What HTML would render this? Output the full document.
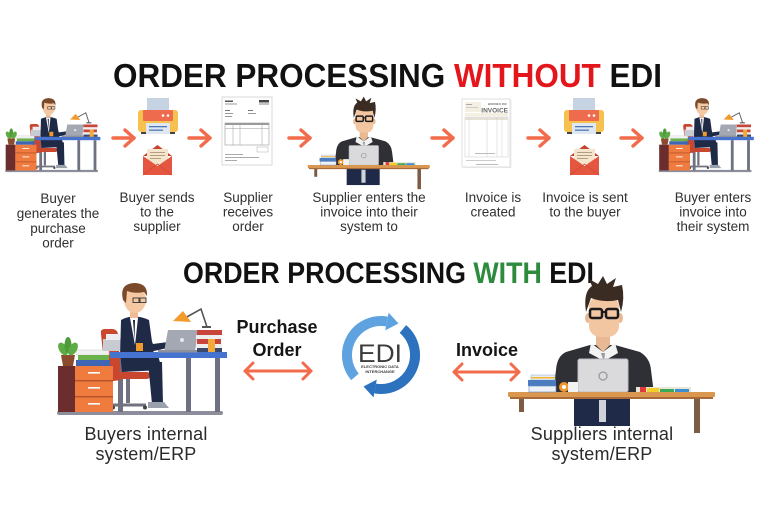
<!DOCTYPE html>
<html><head><meta charset="utf-8">
<style>
html,body{margin:0;padding:0;background:#fff;}
svg{display:block;}
text{font-family:"Liberation Sans",Arial,sans-serif;}
</style></head><body>
<svg width="768" height="514" viewBox="0 0 768 514" xmlns="http://www.w3.org/2000/svg" xmlns:xlink="http://www.w3.org/1999/xlink">
<defs>
<symbol id="buyer" viewBox="55 280 175 140">
  <rect x="57" y="411" width="166" height="4" rx="2" fill="#8c8e9c"/>
  <rect x="118" y="358" width="5" height="54" fill="#6e7182"/>
  <path d="M101 334 Q100 329 105 329 L113 329 Q118 330 118 335 L121 380 L106 382 Z" fill="#c9462f"/>
  <rect x="106" y="372" width="44" height="7" rx="3" fill="#c9462f"/>
  <rect x="126" y="379" width="4" height="24" fill="#70737f"/>
  <path d="M112 405 L146 405" stroke="#70737f" stroke-width="3"/>
  <circle cx="113" cy="407.5" r="2" fill="#444"/><circle cx="145" cy="407.5" r="2" fill="#444"/>
  <rect x="58" y="366" width="18" height="46" fill="#6b2d2e"/>
  <rect x="75" y="366" width="38" height="46" fill="#ef7b3f"/>
  <rect x="75" y="380" width="38" height="1.5" fill="#b9552b"/>
  <rect x="75" y="396" width="38" height="1.5" fill="#b9552b"/>
  <rect x="88" y="372" width="12" height="1.6" fill="#fff"/>
  <rect x="88" y="387" width="12" height="1.6" fill="#fff"/>
  <rect x="88" y="403" width="12" height="1.6" fill="#fff"/>
  <rect x="76" y="350" width="33" height="5" fill="#f0f0f0" stroke="#ccc" stroke-width=".5"/>
  <rect x="78" y="355" width="31" height="5" fill="#6bb24a"/>
  <rect x="76" y="360" width="34" height="6" fill="#3f66b5"/>
  <path d="M61 355 L75 355 L73 366 L63 366 Z" fill="#8c4b2c"/>
  <ellipse cx="63" cy="349" rx="4" ry="7" fill="#5dab44" transform="rotate(-30 63 349)"/>
  <ellipse cx="68" cy="345" rx="3.5" ry="8" fill="#4f9a3b"/>
  <ellipse cx="73" cy="349" rx="4" ry="7" fill="#5dab44" transform="rotate(30 73 349)"/>
  <rect x="103" y="339" width="26" height="12" fill="#c9cbd2"/>
  <rect x="106" y="334" width="14" height="6" fill="#ececf0"/>
  <path d="M121 320 Q134 313 149 320 L154 356 L120 358 Z" fill="#1f2a47"/>
  <path d="M130 318 L138 318 L135 345 Z" fill="#fff"/>
  <path d="M133 320 L135 320 L134.5 340 Z" fill="#1a2238"/>
  <path d="M120 352 L158 355 L162 370 L122 372 Z" fill="#1f2a47"/>
  <path d="M148 362 L162 362 L163 404 L152 404 Z" fill="#1f2a47"/>
  <path d="M148 402 L164 402 L169 408 L148 408 Z" fill="#9ba1ac"/>
  <path d="M143 322 L153 344 L168 342 L168 348 L149 352 L138 330 Z" fill="#1f2a47"/>
  <rect x="130" y="308" width="8" height="10" fill="#eebd97"/>
  <ellipse cx="135" cy="300" rx="11" ry="13" fill="#f4c8a2"/>
  <path d="M123 300 Q119 284 134 283 Q148 283 147 296 L144 292 Q135 294 127 291 L126 303 Z" fill="#7b4a2b"/>
  <rect x="133" y="298" width="6" height="4.5" fill="none" stroke="#333" stroke-width="0.9"/>
  <rect x="140" y="298" width="6" height="4.5" fill="none" stroke="#333" stroke-width="0.9"/>
  <rect x="110" y="352" width="117" height="6" fill="#4673cf"/>
  <rect x="186" y="358" width="5" height="54" fill="#6e7182"/>
  <rect x="215" y="358" width="5" height="54" fill="#6e7182"/>
  <rect x="136" y="343" width="7" height="8" fill="#f09a2e"/>
  <polygon points="164,352 168,330 198,330 195,352" fill="#a4a8b3"/>
  <rect x="158" y="350" width="40" height="2.5" fill="#8d919c"/>
  <circle cx="182" cy="340" r="2" fill="#e8e8ec"/>
  <path d="M185 318 L201 309 L207 327" stroke="#555" stroke-width="1.6" fill="none"/>
  <polygon points="173,321 183,311 191,322" fill="#f39a2c"/>
  <rect x="202" y="326" width="9" height="2" fill="#555"/>
  <rect x="197" y="330" width="25" height="5" fill="#c8453c"/>
  <rect x="196" y="335" width="25" height="4" fill="#eeeeee"/>
  <rect x="197" y="339" width="24" height="5" fill="#c8453c"/>
  <rect x="196" y="344" width="26" height="4" fill="#eeeeee"/>
  <rect x="197" y="348" width="25" height="4" fill="#3b4a6b"/>
  <rect x="208" y="339" width="7" height="13" fill="#f4a93a"/>
</symbol>
<symbol id="supplier" viewBox="505 275 212 160">
  <rect x="519" y="397" width="5" height="15" fill="#7d5c43"/>
  <rect x="694" y="397" width="6" height="36" fill="#7d5c43"/>
  <rect x="574" y="398" width="56" height="28" fill="#1e2a48"/>
  <rect x="599" y="400" width="7" height="22" fill="#cfd2d8"/>
  <path d="M590 345 L615 345 L640 352 Q650 358 651 370 L654 394 L553 394 L556 370 Q557 356 566 352 Z" fill="#2f3036"/>
  <path d="M596 332 L610 332 L610 345 L603 352 L596 345 Z" fill="#e8b994"/>
  <path d="M591 343 L603 352 L615 343 L618 353 L604 361 L589 353 Z" fill="#f2f2f2"/>
  <path d="M601 353 L605 353 L604 362 Z" fill="#9a9aa0"/>
  <ellipse cx="588" cy="318" rx="3" ry="5" fill="#e8b994"/>
  <ellipse cx="620" cy="318" rx="3" ry="5" fill="#e8b994"/>
  <rect x="589" y="296" width="30" height="41" rx="11" fill="#f3c6a2"/>
  <path d="M586 312 Q583 292 592 286 L589 279 L598 284 L603 276 L607 284 L616 278 L613 287 L622 285 Q625 298 621 312 L618 300 Q604 303 591 298 Z" fill="#3a2b23"/>
  <rect x="590" y="309" width="12" height="9" rx="2" fill="none" stroke="#1a1a1a" stroke-width="2.5"/>
  <rect x="606" y="309" width="12" height="9" rx="2" fill="none" stroke="#1a1a1a" stroke-width="2.5"/>
  <rect x="601" y="311" width="6" height="2" fill="#1a1a1a"/>
  <rect x="578" y="359" width="50" height="33" rx="2" fill="#dadadd" stroke="#bdbdc3" stroke-width="1"/>
  <circle cx="603" cy="376" r="4" fill="none" stroke="#9a9aa2" stroke-width="1.3"/>
  <rect x="508" y="392" width="207" height="5" rx="1" fill="#d9974f"/>
  <rect x="510" y="397" width="203" height="2" fill="#a86a3a"/>
  <rect x="531" y="375" width="24" height="5" fill="#e9eef6" stroke="#9fb6d6" stroke-width=".6"/>
  <rect x="531" y="377" width="24" height="1.5" fill="#f2b531"/>
  <rect x="528" y="380" width="28" height="6" fill="#4b7cc0"/>
  <rect x="529" y="386" width="27" height="6" fill="#eef2f7" stroke="#5e84bb" stroke-width=".6"/>
  <circle cx="564" cy="387" r="5" fill="#f2962e"/><circle cx="564" cy="387" r="2" fill="#fff"/>
  <rect x="568" y="382" width="10" height="10" fill="#f2f2f2"/>
  <rect x="636" y="387" width="55" height="5" fill="#e9e6d8"/>
  <rect x="640" y="387" width="6" height="5" fill="#e23a3a"/>
  <rect x="647" y="388" width="12" height="4" fill="#f5d02a"/>
  <rect x="660" y="389" width="14" height="3" fill="#3aaa55"/>
  <rect x="675" y="389" width="14" height="3" fill="#3a8fd0"/>
</symbol>
<g id="printer">
  <rect x="147" y="98" width="22" height="14" fill="#c5d3e3"/>
  <rect x="138" y="110" width="40" height="22" rx="3" fill="#f6c14e"/>
  <rect x="143" y="110" width="30" height="11" rx="1" fill="#ee6b4d"/>
  <circle cx="163" cy="115.5" r="1.3" fill="#fff"/><circle cx="168" cy="115.5" r="1.3" fill="#fff"/>
  <rect x="146" y="123" width="24" height="11" fill="#dfe8f2"/>
  <rect x="149" y="126" width="18" height="1.3" fill="#4f78b5"/>
  <rect x="149" y="129.5" width="14" height="1.3" fill="#4f78b5"/>
  <rect x="141" y="132" width="5" height="2" fill="#444"/>
  <rect x="170" y="132" width="5" height="2" fill="#444"/>
</g>
<g id="envelope">
  <polygon points="143,156 157.5,145 172,156" fill="#c9412f"/>
  <rect x="147" y="149" width="21" height="15" fill="#f4e5cc"/>
  <rect x="150" y="152" width="15" height="1" fill="#b59d80"/>
  <rect x="150" y="155" width="15" height="1" fill="#b59d80"/>
  <rect x="150" y="158" width="11" height="1" fill="#b59d80"/>
  <polygon points="143,156 157.5,166 172,156 172,175 143,175" fill="#e4563f"/>
  <polyline points="143,175 157.5,164 172,175" fill="none" stroke="#d04a36" stroke-width="0.8"/>
</g>
<g id="arrow" fill="none" stroke="#f26b4a" stroke-width="3.4" stroke-linecap="round" stroke-linejoin="round">
  <line x1="113" y1="138" x2="134" y2="138"/>
  <polyline points="125,130 134,138 125,146"/>
</g>
</defs>

<!-- Title 1 -->
<text x="113" y="87" font-size="33" font-weight="bold" textLength="549" lengthAdjust="spacingAndGlyphs" fill="#111">ORDER PROCESSING <tspan fill="#e3161b">WITHOUT</tspan> EDI</text>

<!-- Top row icons -->
<use xlink:href="#buyer" href="#buyer" x="4" y="96.5" width="98" height="78.4"/>
<use xlink:href="#arrow" href="#arrow"/>
<use xlink:href="#printer" href="#printer"/>
<use xlink:href="#envelope" href="#envelope"/>
<use xlink:href="#arrow" href="#arrow" x="76"/>

<!-- PO document -->
<g>
  <rect x="222" y="97" width="50" height="68" fill="#fff" stroke="#cfcfcf" stroke-width="0.8"/>
  <rect x="225" y="100.5" width="8" height="1.5" fill="#555"/>
  <rect x="225" y="103.5" width="12" height="1" fill="#999"/>
  <rect x="259" y="100" width="10" height="2.5" fill="#444"/>
  <rect x="259" y="103.5" width="10" height="1" fill="#888"/>
  <rect x="225" y="110" width="5" height="1" fill="#777"/>
  <rect x="225" y="113" width="8" height="1" fill="#999"/>
  <rect x="248" y="110" width="5" height="1" fill="#777"/>
  <rect x="248" y="113" width="8" height="1" fill="#999"/>
  <rect x="225" y="116" width="7" height="1" fill="#999"/>
  <rect x="225" y="123" width="44" height="22" fill="none" stroke="#9a9a9a" stroke-width="0.6"/>
  <rect x="225" y="123" width="44" height="2" fill="#9a9a9a"/>
  <line x1="225" y1="128.5" x2="269" y2="128.5" stroke="#9a9a9a" stroke-width="0.6"/>
  <line x1="233" y1="123" x2="233" y2="145" stroke="#9a9a9a" stroke-width="0.5"/>
  <line x1="240" y1="123" x2="240" y2="145" stroke="#9a9a9a" stroke-width="0.5"/>
  <line x1="262" y1="123" x2="262" y2="145" stroke="#9a9a9a" stroke-width="0.5"/>
  <rect x="257" y="147" width="11" height="5" fill="none" stroke="#aaa" stroke-width="0.5"/>
  <rect x="225" y="154" width="18" height="1" fill="#aaa"/>
  <rect x="225" y="157" width="34" height="1" fill="#aaa"/>
  <rect x="225" y="160" width="12" height="1" fill="#aaa"/>
</g>
<use xlink:href="#arrow" href="#arrow" x="176"/>

<use xlink:href="#supplier" href="#supplier" x="306" y="96" width="125" height="94.4"/>
<use xlink:href="#arrow" href="#arrow" x="319"/>

<!-- Invoice document -->
<g>
  <rect x="463.5" y="100" width="48" height="68" fill="#eee"/>
  <rect x="462" y="99" width="48" height="68" fill="#fff" stroke="#d8d8d8" stroke-width="0.8"/>
  <rect x="465" y="102" width="16" height="10" fill="#f5efe2"/>
  <rect x="466" y="104" width="6" height="1" fill="#aaa"/>
  <rect x="466" y="107" width="12" height="1" fill="#ccc"/>
  <text x="507" y="105" font-size="3" text-anchor="end" fill="#777" font-weight="bold">BORNEO INC</text>
  <text x="508" y="112.5" font-size="6.5" text-anchor="end" fill="#666" font-weight="bold">INVOICE</text>
  <rect x="465" y="113" width="43" height="3" fill="#f5efe2"/>
  <rect x="465" y="117" width="43" height="40" fill="none" stroke="#ccc" stroke-width="0.5"/>
  <rect x="465" y="117" width="43" height="3" fill="#e6e1d6"/>
  <line x1="469" y1="117" x2="469" y2="157" stroke="#ccc" stroke-width="0.5"/>
  <line x1="487" y1="117" x2="487" y2="157" stroke="#ccc" stroke-width="0.5"/>
  <line x1="497" y1="117" x2="497" y2="157" stroke="#ccc" stroke-width="0.5"/>
  <line x1="502" y1="117" x2="502" y2="157" stroke="#ccc" stroke-width="0.5"/>
  <rect x="475" y="153" width="20" height="1" fill="#bbb"/>
  <rect x="466" y="160" width="30" height="1" fill="#ccc"/>
  <rect x="476" y="164" width="22" height="1" fill="#bbb"/>
</g>
<use xlink:href="#arrow" href="#arrow" x="415"/>
<use xlink:href="#printer" href="#printer" x="426"/>
<use xlink:href="#envelope" href="#envelope" x="427"/>
<use xlink:href="#arrow" href="#arrow" x="508"/>
<use xlink:href="#buyer" href="#buyer" x="657.5" y="96.5" width="98" height="78.4"/>

<!-- Top labels -->
<g font-size="13.5" fill="#303030" text-anchor="middle">
  <text x="58" y="203">Buyer</text>
  <text x="58" y="218">generates the</text>
  <text x="58" y="233">purchase</text>
  <text x="58" y="247.5">order</text>
  <text x="157" y="202">Buyer sends</text>
  <text x="157" y="216.5">to the</text>
  <text x="157" y="231">supplier</text>
  <text x="248" y="202">Supplier</text>
  <text x="248" y="216.5">receives</text>
  <text x="248" y="231">order</text>
  <text x="369" y="202">Supplier enters the</text>
  <text x="369" y="216.5">invoice into their</text>
  <text x="369" y="231">system to</text>
  <text x="493" y="202">Invoice is</text>
  <text x="493" y="216.5">created</text>
  <text x="585" y="202">Invoice is sent</text>
  <text x="585" y="216.5">to the buyer</text>
  <text x="713" y="202">Buyer enters</text>
  <text x="713" y="216.5">invoice into</text>
  <text x="713" y="231">their system</text>
</g>

<!-- Title 2 -->
<text x="183" y="283" font-size="30" font-weight="bold" textLength="411" lengthAdjust="spacingAndGlyphs" fill="#111">ORDER PROCESSING <tspan fill="#2e8b3e">WITH</tspan> EDI</text>

<!-- Bottom section -->
<use xlink:href="#buyer" href="#buyer" x="55" y="280" width="175" height="140"/>
<use xlink:href="#supplier" href="#supplier" x="505" y="275" width="212" height="160"/>

<g font-weight="bold" font-size="18" fill="#151515" text-anchor="middle">
  <text x="277" y="333">Purchase</text>
  <text x="277" y="356">Order</text>
  <text x="487" y="356">Invoice</text>
</g>

<g fill="none" stroke="#f26b4a" stroke-width="3" stroke-linecap="round" stroke-linejoin="round">
  <line x1="245" y1="371" x2="311" y2="371"/>
  <polyline points="253,363 245,371 253,379"/>
  <polyline points="303,363 311,371 303,379"/>
  <line x1="454" y1="372" x2="519" y2="372"/>
  <polyline points="462,364 454,372 462,380"/>
  <polyline points="511,364 519,372 511,380"/>
</g>

<!-- EDI logo -->
<g>
  <path d="M354.95 376.86 A34 34 0 0 1 386.9 321.5" fill="none" stroke="#5ea3df" stroke-width="10"/>
  <polygon points="398.5,323.5 388.6,312.6 385.2,330.4" fill="#5ea3df"/>
  <path d="M402.9 329 A34 34 0 0 1 375.1 388.5" fill="none" stroke="#2c72bf" stroke-width="10"/>
  <polygon points="363.5,386.5 373.5,397.4 376.8,379.6" fill="#2c72bf"/>
  <text x="380" y="362" font-size="25" text-anchor="middle" fill="#3b3b3b" textLength="44" lengthAdjust="spacingAndGlyphs">EDI</text>
  <text x="380" y="368" font-size="4" font-weight="bold" text-anchor="middle" fill="#3b3b3b">ELECTRONIC DATA</text>
  <text x="380" y="373" font-size="4" font-weight="bold" text-anchor="middle" fill="#3b3b3b">INTERCHANGE</text>
</g>

<g font-size="18" fill="#2a2a2a" text-anchor="middle" letter-spacing="0.2">
  <text x="146" y="440">Buyers internal</text>
  <text x="146" y="460">system/ERP</text>
  <text x="602" y="440">Suppliers internal</text>
  <text x="602" y="460">system/ERP</text>
</g>
</svg>
</body></html>
